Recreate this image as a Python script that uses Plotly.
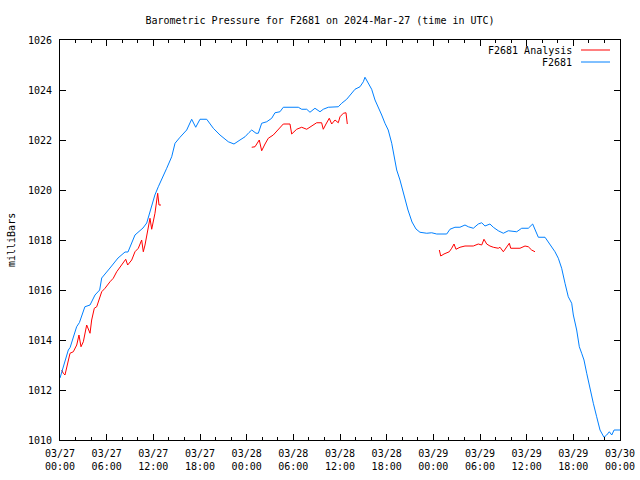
import pandas as pd
import plotly.graph_objects as go

# Hours since 2024-03-27 00:00 UTC, pressure in milliBars
station_hours = [0, 0.4, 0.8, 1.07, 1.3, 1.71, 2.14, 2.5, 3.2, 3.86, 4.5, 5.1, 5.36, 6.43, 7.46, 8.36, 8.74,
                 9.64, 10.67, 11.15, 11.79, 12.2, 12.64, 13.28, 13.72, 14.36, 14.79, 15.43, 16.29, 16.93,
                 17.45, 18.0, 18.86, 19.71, 20.57, 21.64, 22.37, 23.14, 23.79, 24.3, 24.65, 25.2, 25.5,
                 25.93, 26.58, 27.22, 27.64, 28.28, 28.71, 30.64, 31.07, 31.72, 32.14, 32.78, 33.43, 33.85,
                 34.5, 35.78, 36.22, 36.86, 37.5, 37.93, 38.57, 39.0, 39.21, 39.64, 40.07, 40.5, 40.92,
                 41.36, 41.78, 42.2, 42.65, 43.07, 43.29, 43.71, 44.36, 44.74, 45.26, 45.77, 46.28, 47.15,
                 47.79, 48.43, 49.72, 50.14, 50.78, 51.42, 52.07, 52.5, 53.14, 53.78, 54.22, 54.64, 55.28,
                 55.71, 56.35, 57.0, 57.64, 58.72, 59.36, 60.21, 60.77, 61.07, 61.5, 62.36, 62.78, 63.22,
                 63.64, 64.07, 64.5, 64.93, 65.35, 65.79, 66.0, 66.43, 66.77, 67.07, 67.37, 67.72, 68.14,
                 68.57, 69.0, 69.43, 69.94, 70.29, 70.63, 70.94, 71.24, 72.0]
station_mb = [1012.48, 1012.9, 1013.4, 1013.6, 1013.7, 1014.13, 1014.53, 1014.7, 1015.33, 1015.4, 1015.8,
              1016.0, 1016.48, 1016.88, 1017.28, 1017.52, 1017.52, 1018.2, 1018.48, 1018.68, 1019.33,
              1019.8, 1020.13, 1020.53, 1020.87, 1021.33, 1021.87, 1022.11, 1022.4, 1022.83, 1022.51,
              1022.83, 1022.83, 1022.47, 1022.2, 1021.93, 1021.84, 1022.0, 1022.13, 1022.3, 1022.4,
              1022.27, 1022.27, 1022.67, 1022.73, 1022.87, 1023.09, 1023.13, 1023.31, 1023.31, 1023.23,
              1023.23, 1023.11, 1023.27, 1023.13, 1023.23, 1023.31, 1023.33, 1023.47, 1023.63, 1023.87,
              1024.03, 1024.13, 1024.33, 1024.51, 1024.27, 1024.03, 1023.6, 1023.33, 1023.0, 1022.67,
              1022.4, 1021.87, 1021.2, 1020.8, 1020.4, 1019.6, 1019.2, 1018.72, 1018.44, 1018.31,
              1018.27, 1018.29, 1018.24, 1018.24, 1018.43, 1018.51, 1018.51, 1018.6, 1018.53, 1018.47,
              1018.64, 1018.69, 1018.56, 1018.64, 1018.51, 1018.37, 1018.27, 1018.37, 1018.33, 1018.47,
              1018.47, 1018.64, 1018.43, 1018.11, 1018.11, 1017.93, 1017.76, 1017.53, 1017.27, 1016.87,
              1016.27, 1015.73, 1015.47, 1015.0, 1014.4, 1013.73, 1013.47, 1013.2, 1012.67, 1012.0,
              1011.47, 1010.93, 1010.4, 1010.11, 1010.2, 1010.33, 1010.2, 1010.4, 1010.4]

# Analysis series (None marks gaps between segments)
analysis_hours = [0.22, 0.42, 0.64, 1.29, 1.71, 2.15, 2.44, 2.7, 3.0, 3.43, 3.86, 4.07, 4.41, 4.72, 5.36,
                  5.79, 6.43, 6.85, 7.29, 7.93, 8.45, 8.7, 9.22, 9.64, 10.07, 10.5, 10.71, 10.93, 11.28,
                  11.57, 11.79, 12.21, 12.56, 12.73, 12.98, None,
                  24.65, 25.07, 25.62, 25.93, 26.36, 26.78, 27.42, 28.07, 28.71, 29.57, 29.79, 30.43,
                  31.07, 31.72, 32.36, 33.0, 33.64, 33.85, 34.2, 34.62, 34.93, 35.36, 35.78, 36.0, 36.43,
                  36.77, 36.94, None,
                  48.77, 48.95, 49.37, 49.72, 50.05, 50.36, 50.66, 50.91, 51.43, 52.07, 53.14, 53.78,
                  54.22, 54.51, 54.86, 55.28, 55.71, 56.35, 56.57, 57.0, 57.43, 57.77, 57.95, 59.14,
                  59.79, 60.21, 60.64, 61.07]
analysis_mb = [1012.8, 1012.67, 1012.6, 1013.47, 1013.53, 1013.8, 1014.2, 1013.73, 1013.93, 1014.6,
               1014.27, 1014.8, 1015.27, 1015.33, 1015.93, 1016.07, 1016.33, 1016.47, 1016.73, 1017.0,
               1017.23, 1017.0, 1017.2, 1017.53, 1017.67, 1018.0, 1017.53, 1017.8, 1018.33, 1018.87,
               1018.43, 1019.07, 1019.87, 1019.4, 1019.4, None,
               1021.71, 1021.73, 1022.0, 1021.57, 1021.84, 1022.07, 1022.2, 1022.43, 1022.64, 1022.64,
               1022.24, 1022.43, 1022.51, 1022.43, 1022.56, 1022.69, 1022.69, 1022.43, 1022.64, 1022.87,
               1022.64, 1022.8, 1022.69, 1022.93, 1023.07, 1023.09, 1022.64, None,
               1017.6, 1017.36, 1017.44, 1017.49, 1017.53, 1017.67, 1017.84, 1017.63, 1017.71, 1017.76,
               1017.76, 1017.84, 1017.8, 1018.03, 1017.84, 1017.76, 1017.71, 1017.67, 1017.71, 1017.53,
               1017.73, 1017.87, 1017.67, 1017.67, 1017.76, 1017.73, 1017.6, 1017.53]

series_names = ["F2681 Analysis", "F2681"]
series_colors = ["#ff0000", "#0080ff"]

start = pd.Timestamp("2024-03-27 00:00")
end = pd.Timestamp("2024-03-30 00:00")


def to_time(hours):
    return [None if h is None else start + pd.Timedelta(hours=h) for h in hours]


FONT = "DejaVu Sans Mono"
W, H = 640, 480
ML, MR, MT, MB = 60, 20, 40, 40
PW, PH = W - ML - MR, H - MT - MB

fig = go.Figure()
fig.add_trace(go.Scatter(x=to_time(analysis_hours), y=analysis_mb, mode="lines",
                         name=series_names[0], line=dict(color=series_colors[0], width=1),
                         connectgaps=False, showlegend=False))
fig.add_trace(go.Scatter(x=to_time(station_hours), y=station_mb, mode="lines",
                         name=series_names[1], line=dict(color=series_colors[1], width=1),
                         showlegend=False))

# gnuplot-style key: right-aligned text followed by a line sample
annotations = []
shapes = []
for i, (nm, col) in enumerate(zip(series_names, series_colors)):
    ypix = 50 + 12 * i
    yp = (H - MB - ypix) / PH
    annotations.append(dict(text=nm, xref="paper", yref="paper", x=(574 - ML) / PW, y=yp,
                            xanchor="right", yanchor="middle", showarrow=False,
                            font=dict(family=FONT, size=10, color="black")))
    shapes.append(dict(type="line", xref="paper", yref="paper", x0=(581 - ML) / PW, x1=(610 - ML) / PW,
                       y0=yp, y1=yp, line=dict(color=col, width=1)))

# y-axis label
annotations.append(dict(text="milliBars", xref="paper", yref="paper", x=(11 - ML) / PW, y=0.5,
                        xanchor="center", yanchor="middle", textangle=-90, showarrow=False,
                        font=dict(family=FONT, size=10, color="black")))

fig.update_layout(
    width=W, height=H,
    margin=dict(l=ML, r=MR, t=MT, b=MB, pad=0),
    paper_bgcolor="white", plot_bgcolor="white",
    font=dict(family=FONT, size=10, color="black"),
    title=dict(text="Barometric Pressure for F2681 on 2024-Mar-27 (time in UTC)",
               x=0.5, xanchor="center", y=1 - 20 / H, yref="container", yanchor="middle",
               font=dict(family=FONT, size=10, color="black")),
    showlegend=False,
    annotations=annotations,
    shapes=shapes,
)

fig.update_xaxes(
    type="date", range=[start, end], automargin=False,
    tick0=start, dtick=6 * 3600 * 1000, tickformat="%m/%d<br>%H:%M",
    ticks="inside", ticklen=6, tickcolor="black", tickwidth=1,
    minor=dict(dtick=2 * 3600 * 1000, ticks="inside", ticklen=3, tickcolor="black", showgrid=False),
    showline=True, linecolor="black", linewidth=1, mirror="allticks",
    showgrid=False, zeroline=False, ticklabelstandoff=4,
    tickfont=dict(family=FONT, size=10, color="black"),
)
fig.update_yaxes(
    range=[1010, 1026], dtick=2, tick0=1010, automargin=False,
    ticks="inside", ticklen=6, tickcolor="black", tickwidth=1,
    showline=True, linecolor="black", linewidth=1, mirror="allticks",
    showgrid=False, zeroline=False, ticklabelstandoff=5,
    tickfont=dict(family=FONT, size=10, color="black"),
)

fig.write_html("out.html", config={"displayModeBar": False},
               post_script="document.body.style.margin='0';")
